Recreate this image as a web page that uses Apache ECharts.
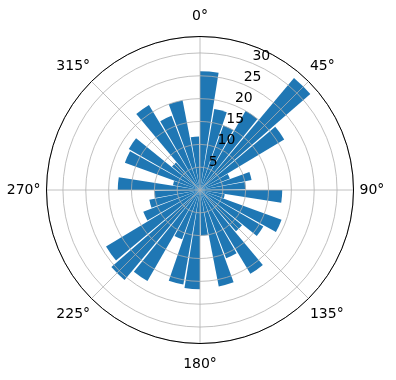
<!DOCTYPE html>
<html>
<head>
<meta charset="UTF-8">
<title>polar bars</title>
<script src="https://cdn.jsdelivr.net/npm/echarts@6/dist/echarts.min.js"></script>
<style>
  html, body { margin: 0; padding: 0; background: #fff; }
  #main { width: 396px; height: 380px; }
</style>
</head>
<body>
<div id="main"></div>
<script>
// one bar every 10 degrees, clockwise from north
var directions = ['0°', '10°', '20°', '30°', '40°', '50°', '60°', '70°', '80°',
                  '90°', '100°', '110°', '120°', '130°', '140°', '150°', '160°', '170°',
                  '180°', '190°', '200°', '210°', '220°', '230°', '240°', '250°', '260°',
                  '270°', '280°', '290°', '300°', '310°', '320°', '330°', '340°', '350°'];
var radii = [26, 18, 15, 20, 32, 21.5, 7, 11.5, 10,
             18, 5.5, 19, 16, 12, 21.4, 16, 21.5, 10,
             21.7, 21, 11.5, 23, 25.7, 24, 13.3, 11.3, 10,
             18, 6, 17.5, 18, 8, 21.7, 17.4, 20, 11.7];
var rTicks = [5, 10, 15, 20, 25, 30];
var rMax = 33.6;

var chart = echarts.init(document.getElementById('main'));
var center = [200, 190];
var radius = 153.5;
var gridColor = '#b0b0b0';

function degLabel(keep) {
    return function (v) { return keep(v) ? v + '°' : ''; };
}

var option = {
    animation: false,
    textStyle: { fontFamily: 'DejaVu Sans' },
    polar: [
        { center: center, radius: radius },   // bars
        { center: center, radius: radius },   // grid + N/E/S/W labels
        { center: center, radius: radius },   // radius labels at 22.5°
        { center: center, radius: radius }    // diagonal labels
    ],
    angleAxis: [
        {
            polarIndex: 0, type: 'category', data: directions,
            startAngle: 90.5, clockwise: true,
            axisLine: { show: false }, axisTick: { show: false },
            axisLabel: { show: false }, splitLine: { show: false }
        },
        {
            polarIndex: 1, type: 'value', min: 0, max: 360, interval: 45,
            startAngle: 90, clockwise: true, z: 12,
            axisLine: { lineStyle: { color: '#000', width: 1 } },
            axisTick: { show: false },
            axisLabel: {
                color: '#000', fontSize: 14, margin: 6, padding: [7.5, 0, 7.5, 0],
                formatter: degLabel(function (v) { return v % 90 === 0; })
            },
            splitLine: { show: true, lineStyle: { color: gridColor, width: 0.8 } }
        },
        {
            polarIndex: 2, type: 'value', min: 0, max: 360,
            startAngle: 67.5, clockwise: true, show: false
        },
        {
            polarIndex: 3, type: 'value', min: 0, max: 360, interval: 45,
            startAngle: 90, clockwise: true, z: 12,
            axisLine: { show: false }, axisTick: { show: false },
            splitLine: { show: false },
            axisLabel: {
                color: '#000', fontSize: 14, margin: 2, padding: [7, 0, 7, 0],
                formatter: degLabel(function (v) { return v % 90 === 45; })
            }
        }
    ],
    radiusAxis: [
        { polarIndex: 0, type: 'value', min: 0, max: rMax, show: false },
        {
            polarIndex: 1, type: 'value', min: 0, max: rMax, interval: 5, z: 11,
            axisLine: { show: false }, axisTick: { show: false },
            axisLabel: { show: false },
            splitLine: { show: true, lineStyle: { color: gridColor, width: 0.8 } }
        },
        {
            polarIndex: 2, type: 'value', min: 0, max: rMax, interval: 5, z: 13,
            axisLine: { show: false }, axisTick: { show: false },
            splitLine: { show: false },
            axisLabel: {
                color: '#000', fontSize: 14, margin: 0,
                align: 'left', verticalAlign: 'bottom',
                formatter: function (v) {
                    return rTicks.indexOf(v) >= 0 ? String(v) : '';
                }
            }
        },
        { polarIndex: 3, type: 'value', min: 0, max: rMax, show: false }
    ],
    series: [{
        type: 'bar',
        coordinateSystem: 'polar',
        polarIndex: 0,
        data: radii,
        barCategoryGap: '10%',
        itemStyle: { color: '#1f77b4' }
    }]
};
chart.setOption(option);
</script>
</body>
</html>
